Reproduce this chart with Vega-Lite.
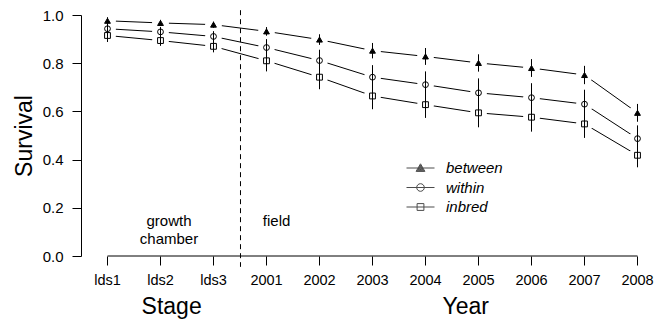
{
  "$schema": "https://vega.github.io/schema/vega-lite/v6.json",
  "width": 583,
  "height": 241,
  "autosize": {"type": "none"},
  "padding": {"left": 81, "top": 15, "right": 4, "bottom": 66},
  "config": {
    "font": "Liberation Sans",
    "view": {"stroke": null},
    "axis": {"grid": false, "domainColor": "black", "tickColor": "black", "labelColor": "black", "titleColor": "black", "titleFontWeight": "normal", "tickWidth": 1, "domainWidth": 1},
    "legend": {"labelColor": "black"}
  },
  "resolve": {"scale": {"shape": "independent"}},
  "data": {"values": [
    {"stage": "lds1", "series": "between", "survival": 0.976, "lo": 0.961, "hi": 0.991},
    {"stage": "lds2", "series": "between", "survival": 0.967, "lo": 0.954, "hi": 0.980},
    {"stage": "lds3", "series": "between", "survival": 0.960, "lo": 0.947, "hi": 0.973},
    {"stage": "2001", "series": "between", "survival": 0.932, "lo": 0.914, "hi": 0.950},
    {"stage": "2002", "series": "between", "survival": 0.898, "lo": 0.876, "hi": 0.920},
    {"stage": "2003", "series": "between", "survival": 0.852, "lo": 0.820, "hi": 0.884},
    {"stage": "2004", "series": "between", "survival": 0.828, "lo": 0.793, "hi": 0.863},
    {"stage": "2005", "series": "between", "survival": 0.801, "lo": 0.765, "hi": 0.837},
    {"stage": "2006", "series": "between", "survival": 0.780, "lo": 0.743, "hi": 0.817},
    {"stage": "2007", "series": "between", "survival": 0.751, "lo": 0.713, "hi": 0.789},
    {"stage": "2008", "series": "between", "survival": 0.594, "lo": 0.557, "hi": 0.631},
    {"stage": "lds1", "series": "within", "survival": 0.943, "lo": 0.923, "hi": 0.963},
    {"stage": "lds2", "series": "within", "survival": 0.930, "lo": 0.910, "hi": 0.950},
    {"stage": "lds3", "series": "within", "survival": 0.911, "lo": 0.889, "hi": 0.933},
    {"stage": "2001", "series": "within", "survival": 0.865, "lo": 0.830, "hi": 0.900},
    {"stage": "2002", "series": "within", "survival": 0.811, "lo": 0.766, "hi": 0.856},
    {"stage": "2003", "series": "within", "survival": 0.742, "lo": 0.692, "hi": 0.792},
    {"stage": "2004", "series": "within", "survival": 0.711, "lo": 0.656, "hi": 0.766},
    {"stage": "2005", "series": "within", "survival": 0.677, "lo": 0.617, "hi": 0.737},
    {"stage": "2006", "series": "within", "survival": 0.657, "lo": 0.597, "hi": 0.717},
    {"stage": "2007", "series": "within", "survival": 0.630, "lo": 0.570, "hi": 0.690},
    {"stage": "2008", "series": "within", "survival": 0.487, "lo": 0.432, "hi": 0.542},
    {"stage": "lds1", "series": "inbred", "survival": 0.915, "lo": 0.888, "hi": 0.942},
    {"stage": "lds2", "series": "inbred", "survival": 0.894, "lo": 0.872, "hi": 0.916},
    {"stage": "lds3", "series": "inbred", "survival": 0.870, "lo": 0.845, "hi": 0.895},
    {"stage": "2001", "series": "inbred", "survival": 0.810, "lo": 0.766, "hi": 0.854},
    {"stage": "2002", "series": "inbred", "survival": 0.742, "lo": 0.692, "hi": 0.792},
    {"stage": "2003", "series": "inbred", "survival": 0.664, "lo": 0.609, "hi": 0.719},
    {"stage": "2004", "series": "inbred", "survival": 0.628, "lo": 0.573, "hi": 0.683},
    {"stage": "2005", "series": "inbred", "survival": 0.594, "lo": 0.534, "hi": 0.654},
    {"stage": "2006", "series": "inbred", "survival": 0.576, "lo": 0.516, "hi": 0.636},
    {"stage": "2007", "series": "inbred", "survival": 0.548, "lo": 0.490, "hi": 0.606},
    {"stage": "2008", "series": "inbred", "survival": 0.418, "lo": 0.368, "hi": 0.468}
  ]},
  "layer": [
    {
      "mark": {"type": "line", "color": "black", "strokeWidth": 1},
      "encoding": {
        "x": {"field": "stage", "type": "ordinal",
          "scale": {"type": "band", "domain": ["lds1", "lds2", "lds3", "2001", "2002", "2003", "2004", "2005", "2006", "2007", "2008"], "paddingInner": 0, "paddingOuter": 0},
          "axis": {"title": null, "domain": false, "tickSize": 9, "labelPadding": 8, "labelFontSize": 14.5, "labelAngle": 0}},
        "y": {"field": "survival", "type": "quantitative",
          "scale": {"domain": [0, 1], "nice": false, "zero": false},
          "axis": {"title": "Survival", "titleFontSize": 23, "values": [0, 0.2, 0.4, 0.6, 0.8, 1], "format": ".1f", "tickSize": 9, "labelPadding": 9, "labelFontSize": 15, "titlePadding": 6}},
        "detail": {"field": "series", "type": "nominal"},
        "order": {"value": null}
      }
    },
    {
      "mark": {"type": "point", "filled": true, "color": "white", "size": 289, "shape": "circle", "opacity": 1, "strokeWidth": 0},
      "encoding": {
        "x": {"field": "stage", "type": "ordinal"},
        "y": {"field": "survival", "type": "quantitative"}
      }
    },
    {
      "mark": {"type": "rule", "color": "black", "strokeWidth": 1},
      "encoding": {
        "x": {"field": "stage", "type": "ordinal"},
        "y": {"field": "lo", "type": "quantitative"},
        "y2": {"field": "hi"}
      }
    },
    {
      "data": {"values": [{"from": "lds1"}, {"from": "2008"}]},
      "mark": {"type": "line", "color": "black", "strokeWidth": 1},
      "encoding": {
        "x": {"field": "from", "type": "ordinal"},
        "y": {"datum": 0, "type": "quantitative"},
        "order": {"value": null}
      }
    },
    {
      "data": {"values": [{"boundary": "growth chamber | field"}]},
      "mark": {"type": "rule", "color": "black", "strokeWidth": 1, "strokeDash": [5, 4]},
      "encoding": {
        "x": {"datum": "2001", "type": "ordinal", "bandPosition": 0.0094},
        "y": {"datum": 1.02, "type": "quantitative"},
        "y2": {"datum": -0.045}
      }
    },
    {
      "mark": {"type": "point", "stroke": "black", "strokeWidth": 1, "opacity": 1, "size": 34},
      "encoding": {
        "x": {"field": "stage", "type": "ordinal"},
        "y": {"field": "survival", "type": "quantitative"},
        "shape": {"field": "series", "type": "nominal",
          "scale": {"domain": ["between", "within", "inbred"], "range": ["triangle-up", "circle", "square"]},
          "legend": null},
        "fill": {"field": "series", "type": "nominal",
          "scale": {"domain": ["between", "within", "inbred"], "range": ["black", "transparent", "transparent"]},
          "legend": null}
      }
    },
    {
      "data": {"values": []},
      "mark": {"type": "point", "stroke": "black", "strokeWidth": 1},
      "encoding": {
        "shape": {"field": "series", "type": "nominal",
          "scale": {"domain": ["between", "within", "inbred"], "range": ["M-3.5,0H3.5M0,-1.05L1.1,0.85L-1.1,0.85ZM0,-0.733L0.825,0.692L-0.825,0.692ZM0,-0.417L0.55,0.533L-0.55,0.533ZM0,-0.1L0.275,0.375L-0.275,0.375Z", "M-3.5,0H3.5M0.95,0A0.95,0.95,0,1,1,-0.95,0A0.95,0.95,0,1,1,0.95,0Z", "M-3.5,0H3.5M-0.85,-0.85H0.85V0.85H-0.85Z"]},
          "legend": {"orient": "none", "legendX": 332, "legendY": 145.5, "title": null, "symbolSize": 64, "symbolStrokeColor": "black", "symbolFillColor": "transparent", "symbolStrokeWidth": 1, "labelFontStyle": "italic", "labelFontSize": 15, "labelOffset": 18, "rowPadding": 3.5, "padding": 0,
            "encode": {"symbols": {"update": {
              "stroke": {"value": "black"},
              "strokeWidth": {"value": 1},
              "opacity": {"value": 1}
            }}}}}
      }
    },
    {
      "data": {"values": [{"label": "growth chamber"}]},
      "mark": {"type": "text", "fontSize": 15, "lineHeight": 18, "baseline": "middle", "align": "center", "color": "black"},
      "encoding": {
        "x": {"datum": "lds2", "type": "ordinal", "bandPosition": 0.66},
        "y": {"datum": 0.145, "type": "quantitative"},
        "text": {"value": ["growth", "chamber"]}
      }
    },
    {
      "data": {"values": [{"label": "field"}]},
      "mark": {"type": "text", "fontSize": 15, "baseline": "middle", "align": "center", "color": "black"},
      "encoding": {
        "x": {"datum": "2001", "type": "ordinal", "bandPosition": 0.69},
        "y": {"datum": 0.145, "type": "quantitative"},
        "text": {"field": "label"}
      }
    },
    {
      "data": {"values": [{"label": "Stage"}]},
      "mark": {"type": "text", "fontSize": 23, "baseline": "middle", "align": "center", "color": "black"},
      "encoding": {
        "x": {"datum": "lds2", "type": "ordinal", "bandPosition": 0.71},
        "y": {"datum": -0.21, "type": "quantitative"},
        "text": {"field": "label"}
      }
    },
    {
      "data": {"values": [{"label": "Year"}]},
      "mark": {"type": "text", "fontSize": 23, "baseline": "middle", "align": "center", "color": "black"},
      "encoding": {
        "x": {"datum": "2005", "type": "ordinal", "bandPosition": 0.26},
        "y": {"datum": -0.21, "type": "quantitative"},
        "text": {"field": "label"}
      }
    }
  ]
}
